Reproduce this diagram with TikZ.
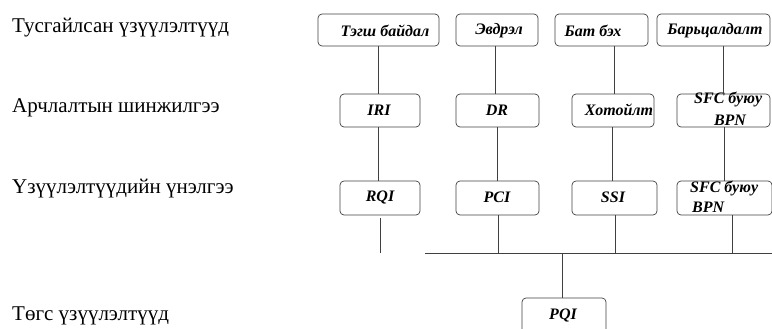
\documentclass[tikz,border=0pt]{standalone}
\usepackage{fontspec}
\setmainfont{Liberation Serif}
\begin{document}
\begin{tikzpicture}[x=1pt,y=-1pt,
  box/.style={draw=black!75,line width=0.7pt,rounded corners=4pt,inner sep=0pt},
  boxtext/.style={inner sep=0pt,font=\fontsize{16}{17}\selectfont\bfseries\itshape},
  rowlabel/.style={anchor=base west,inner sep=0pt,font=\fontsize{21}{23}\selectfont},
  link/.style={draw=black!75,line width=0.7pt}]
\useasboundingbox (0,0) rectangle (772,329);

% row titles
\node[rowlabel] (t1) at (12,33) {Тусгайлсан үзүүлэлтүүд};
\node[rowlabel] (t2) at (12,113) {Арчлалтын шинжилгээ};
\node[rowlabel] (t3) at (12,193) {Үзүүлэлтүүдийн үнэлгээ};
\node[rowlabel] (t4) at (12,320) {Төгс үзүүлэлтүүд};

% specific indicators
\node[box,minimum width=121,minimum height=32] (a1) at (378.5,30) {};
\node[box,minimum width=82,minimum height=32] (a2) at (497,30) {};
\node[box,minimum width=93,minimum height=32] (a3) at (601.5,30) {};
\node[box,minimum width=113,minimum height=32] (a4) at (713.5,30) {};
\node[boxtext] at (385,31) {Тэгш байдал};
\node[boxtext] at (499,31) {Эвдрэл};
\node[boxtext] at (593,31) {Бат бэх};
\node[boxtext] at (715,31) {Барьцалдалт};

% condition surveys
\node[box,minimum width=80,minimum height=33] (b1) at (380,110.5) {};
\node[box,minimum width=83,minimum height=33] (b2) at (497.5,110.5) {};
\node[box,minimum width=82,minimum height=33] (b3) at (613,110.5) {};
\node[box,minimum width=93,minimum height=33] (b4) at (723.5,110.5) {};
\node[boxtext] at (379,110) {IRI};
\node[boxtext] at (497,110) {DR};
\node[boxtext] at (619,110) {Хотойлт};
\node[boxtext,anchor=west] at (694,100) {SFC буюу};
\node[boxtext] at (730,120) {BPN};

% indicator ratings
\node[box,minimum width=80,minimum height=34] (c1) at (380,198) {};
\node[box,minimum width=83,minimum height=34] (c2) at (497.5,198) {};
\node[box,minimum width=85,minimum height=34] (c3) at (614.5,198) {};
\node[box,minimum width=95,minimum height=34] (c4) at (724.5,198) {};
\node[boxtext] at (380,197) {RQI};
\node[boxtext] at (497,197) {PCI};
\node[boxtext] at (613,197) {SSI};
\node[boxtext,anchor=west] at (690,188) {SFC буюу};
\node[boxtext,anchor=west] at (692,207) {BPN};

% overall index
\node[box,minimum width=84,minimum height=36] (d1) at (564,316) {};
\node[boxtext] at (563,315) {PQI};

% connectors between rows
\draw[link] (a1.south -| 378,0) -- (b1.north -| 378,0);
\draw[link] (a2.south -| 495,0) -- (b2.north -| 495,0);
\draw[link] (a3.south -| 614,0) -- (b3.north -| 614,0);
\draw[link] (a4.south -| 723,0) -- (b4.north -| 723,0);
\draw[link] (b1.south -| 378,0) -- (c1.north -| 378,0);
\draw[link] (b2.south -| 497,0) -- (c2.north -| 497,0);
\draw[link] (b3.south -| 612,0) -- (c3.north -| 612,0);
\draw[link] (b4.south -| 724,0) -- (c4.north -| 724,0);

% collecting bus
\coordinate (busL) at (425,253);
\coordinate (busR) at (772,253);
\coordinate (rqiEnd) at (380,253);
\draw[link] (busL) -- (busR);
\draw[link] ([yshift=-3]c1.south) -- (rqiEnd);
\draw[link] (c2.south -| 498,0) -- (498,253);
\draw[link] (c3.south -| 615,0) -- (615,253);
\draw[link] (c4.south -| 732,0) -- (732,253);
\draw[link] (562,253) -- (d1.north -| 562,0);
\end{tikzpicture}
\end{document}
